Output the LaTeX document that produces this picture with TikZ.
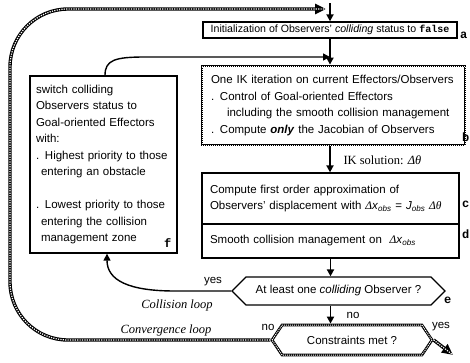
\documentclass[tikz,border=0pt]{standalone}
\usepackage{fontspec}
\setmainfont{Liberation Sans}
\newfontfamily\serifit{Liberation Serif}
\newfontfamily\monob{Liberation Mono}
\usetikzlibrary{arrows.meta, positioning, shapes.symbols}

\begin{document}
\begin{tikzpicture}[x=1pt, y=-1pt,
		every node/.style={font=\fontsize{11.5}{16.5}\selectfont},
		plainbox/.style={draw, line width=1.3pt, inner ysep=0pt, inner xsep=8pt, align=left},
		hatchbox/.style={draw, line width=2.8pt, inner ysep=0pt, inner xsep=9pt, align=left,
			postaction={draw=white, line width=1pt, dash pattern=on 1pt off 1pt}},
		hexbox/.style={signal, signal to=east and west, draw, line width=1.3pt, inner sep=0pt},
		flowarrow/.style={-{Triangle[length=7pt, width=7pt]}, line width=1.8pt},
		loopline/.style={line width=3.4pt,
			postaction={draw=white, line width=1.2pt, dash pattern=on 1.2pt off 1.2pt, -}},
		looptip/.style={-{Triangle[length=11pt, width=10pt]}},
		lbl/.style={font=\monob\bfseries\fontsize{12}{12}\selectfont, anchor=west, inner sep=0pt},
		loopname/.style={font=\serifit\itshape\fontsize{12.5}{14}\selectfont}
	]
	\useasboundingbox (0,0) rectangle (470,362);

	% main column
	\node[plainbox, align=center, inner xsep=0pt, minimum width=254pt, minimum height=16pt,
		font=\fontsize{10.6}{12}\selectfont] (boxa) at (330,30)
		{Initialization of Observers’ \textit{colliding} status to {\monob\bfseries\fontsize{10}{12}\selectfont false}};
	\node[hatchbox, text width=245pt, minimum height=79pt] (boxb) at (333.5,105.5)
		{One IK iteration on current Effectors/Observers\\
		. Control of Goal-oriented Effectors\\
		\hspace*{16pt}including the smooth collision management\\
		. Compute \textbf{\textit{only}} the Jacobian of Observers};
	\node[plainbox, text width=241pt, minimum height=51pt] (boxc) at (330.5,198.5)
		{Compute first order approximation of\\
		Observers’ displacement with {\serifit\itshape Δ}\textit{x}\textsubscript{\textit{obs}}
		= \textit{J}\textsubscript{\textit{obs}} {\serifit\itshape Δθ}};
	\node[plainbox, text width=241pt, minimum height=34pt] (boxd) at (330.5,241)
		{Smooth collision management on \ {\serifit\itshape Δ}\textit{x}\textsubscript{\textit{obs}}};
	\node[hexbox, signal pointer angle=90, minimum width=213pt, minimum height=28pt] (hexe) at (338.5,291)
		{At least one \textit{colliding} Observer ?};
	\node[hexbox, signal pointer angle=112, line width=2.8pt, minimum width=160pt, minimum height=30pt,
		postaction={draw=white, line width=1pt, dash pattern=on 1pt off 1pt}] (hexc) at (352,340)
		{Constraints met ?};

	% left box
	\node[plainbox, inner xsep=6pt, text width=135pt, minimum height=177pt] (boxf) at (103.5,164.5)
		{switch colliding\\
		Observers status to\\
		Goal-oriented Effectors\\
		with:\\
		. Highest priority to those\\
		\hspace*{5pt}entering an obstacle\\[16.5pt]
		. Lowest priority to those\\
		\hspace*{5pt}entering the collision\\
		\hspace*{5pt}management zone};

	% step letters
	\node[lbl] (la) at (460,35) {a};
	\node[lbl] (lb) at (462,137) {b};
	\node[lbl] (lc) at (462,204) {c};
	\node[lbl] (ld) at (462,234) {d};
	\node[lbl] (le) at (444,300) {e};
	\node[lbl] (lf) at (164,243) {f};

	% texts on the connectors
	\node[font=\serifit\fontsize{12.5}{14}\selectfont, anchor=west] (iksol) at (340,160)
		{IK solution: \textit{Δθ}};
	\node (yesl) at (213,282) {yes};
	\node (noe) at (353,315) {no};
	\node (nol) at (268,327) {no};
	\node (yesr) at (441,327) {yes};
	\node[loopname] (colloop) at (177,305) {Collision loop};
	\node[loopname] (convloop) at (166,330) {Convergence loop};

	% connectors
	\coordinate (entry) at (330,3);
	\coordinate (merge) at (330,57);
	\coordinate (loopend) at (326,9);
	\coordinate (exit) at (453,355);
	\draw[flowarrow] (entry) -- (boxa.north);
	\draw[flowarrow] (boxa.south) -- (boxa.south |- boxb.north);
	\draw[flowarrow] (boxa.south |- boxb.south) -- (boxa.south |- boxc.north);
	\draw[flowarrow] (boxd.south) -- (boxd.south |- hexe.north);
	\draw[flowarrow] (boxd.south |- hexe.south) -- (boxd.south |- hexc.north);
	\draw[flowarrow, line width=1.4pt] ([xshift=1.5pt]boxf.north) .. controls (105,60) and (115,57) .. (145,57) -- (merge);
	\draw[flowarrow, line width=1.4pt] (hexe.west) -- (175,291) .. controls (128,291) and (107,280) .. ([xshift=3.5pt]boxf.south);
	\draw[loopline, looptip, rounded corners=58pt] (hexc.west) -- (10,340) -- (10,9) -- (loopend);
	\draw[loopline, looptip] (hexc.east) -- (exit);
\end{tikzpicture}
\end{document}
